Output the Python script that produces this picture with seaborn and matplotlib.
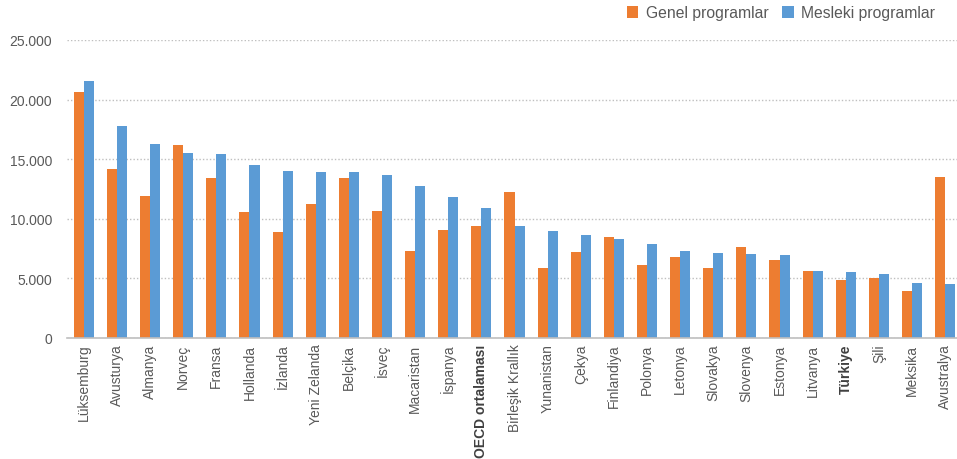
import numpy as np
import pandas as pd
import matplotlib
matplotlib.use("Agg")
import matplotlib.pyplot as plt
from matplotlib.ticker import FuncFormatter, FixedLocator
from matplotlib.patches import Patch
import seaborn as sns

countries = ["Lüksemburg", "Avusturya", "Almanya", "Norveç", "Fransa", "Hollanda",
             "İzlanda", "Yeni Zelanda", "Belçika", "İsveç", "Macaristan", "İspanya",
             "OECD ortalaması", "Birleşik Krallık", "Yunanistan", "Çekya", "Finlandiya",
             "Polonya", "Letonya", "Slovakya", "Slovenya", "Estonya", "Litvanya",
             "Türkiye", "Şili", "Meksika", "Avustralya"]
genel = [20600, 14200, 11900, 16200, 13400, 10600, 8900, 11200, 13400, 10650,
         7300, 9100, 9400, 12250, 5850, 7200, 8450, 6150, 6800, 5900, 7600,
         6550, 5650, 4900, 5000, 3950, 13500]
mesleki = [21600, 17800, 16300, 15500, 15400, 14500, 14000, 13900, 13900, 13700,
           12750, 11800, 10900, 9400, 8950, 8600, 8300, 7850, 7300, 7100, 7050,
           7000, 5650, 5550, 5400, 4600, 4500]
series_names = ["Genel programlar", "Mesleki programlar"]
colors = ["#ED7D31", "#5B9BD5"]
bold_labels = {"OECD ortalaması", "Türkiye"}

df = pd.DataFrame({
    "Ülke": countries * 2,
    "Değer": genel + mesleki,
    "Program": [series_names[0]] * len(countries) + [series_names[1]] * len(countries),
})

sns.set_style("white")
plt.rcParams["font.family"] = ["Liberation Sans", "DejaVu Sans"]

fig = plt.figure(figsize=(9.57, 4.60), dpi=100)
ax = fig.add_axes([67.3 / 957, (460 - 339) / 460, 894.4 / 957, 298 / 460])

sns.barplot(data=df, x="Ülke", y="Değer", hue="Program", palette=colors,
            width=0.61, gap=0, ax=ax, legend=False, errorbar=None,
            saturation=1, linewidth=0)

n = len(countries)
ax.set_xlim(-0.5, n - 0.5)
ax.set_ylim(0, 25000)
ax.set_yticks(np.arange(0, 25001, 5000))
ax.yaxis.set_major_formatter(FuncFormatter(lambda v, p: f"{v:,.0f}".replace(",", ".")))
ax.set_xlabel("")
ax.set_ylabel("")

grey_text = "#595959"
ax.yaxis.grid(True, linestyle=(0, (1, 1.5)), color="#bfbfbf", linewidth=1)
ax.xaxis.grid(False)
ax.set_axisbelow(True)
for side in ["top", "right", "left"]:
    ax.spines[side].set_visible(False)
ax.spines["bottom"].set_color("#bfbfbf")
ax.spines["bottom"].set_linewidth(1.2)

ax.tick_params(axis="y", length=0, pad=11, labelsize=10, labelcolor=grey_text)
ax.tick_params(axis="x", which="major", length=0, pad=4, labelsize=10, labelcolor=grey_text)
ax.xaxis.set_minor_locator(FixedLocator(np.arange(-0.5, n, 1.0)))
ax.tick_params(axis="x", which="minor", length=4, width=1, color="#bfbfbf", direction="out")

ax.set_xticks(range(n))
ax.set_xticklabels(countries, rotation=90, ha="center", va="top")
for lbl in ax.get_xticklabels():
    if lbl.get_text() in bold_labels:
        lbl.set_fontweight("bold")
        lbl.set_color("#404040")

handles = [Patch(facecolor=c, edgecolor="none") for c in colors]
fig.legend(handles, series_names, loc="center right", bbox_to_anchor=(0.992, 0.97),
           ncol=2, frameon=False, fontsize=11.3, labelcolor=grey_text,
           handlelength=0.75, handleheight=0.75, handletextpad=0.45, columnspacing=0.9)

fig.savefig("out.png", dpi=100)
